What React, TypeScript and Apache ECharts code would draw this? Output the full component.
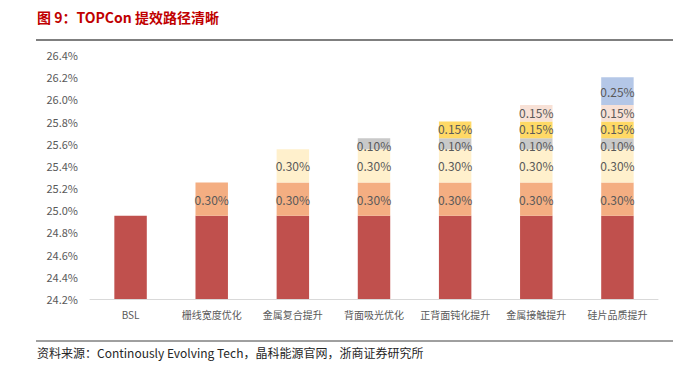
import React, { useEffect, useRef } from "react";
import * as echarts from "echarts";

const categories = ["BSL", "栅线宽度优化", "金属复合提升", "背面吸光优化", "正背面钝化提升", "金属接触提升", "硅片品质提升"];
const baseValues = [24.95, 24.95, 24.95, 24.95, 24.95, 24.95, 24.95];
const gridLineValues = ["-", 0.3, 0.3, 0.3, 0.3, 0.3, 0.3];
const metalCompositeValues = ["-", "-", 0.3, 0.3, 0.3, 0.3, 0.3];
const rearAbsorbValues = ["-", "-", "-", 0.1, 0.1, 0.1, 0.1];
const passivationValues = ["-", "-", "-", "-", 0.15, 0.15, 0.15];
const metalContactValues = ["-", "-", "-", "-", "-", 0.15, 0.15];
const waferValues = ["-", "-", "-", "-", "-", "-", 0.25];

const segments = [
  { name: "栅线宽度优化", data: gridLineValues, color: "#F4AE82", dy: 0 },
  { name: "金属复合提升", data: metalCompositeValues, color: "#FFF0CC", dy: 0 },
  { name: "背面吸光优化", data: rearAbsorbValues, color: "#C9C9C9", dy: 2 },
  { name: "正背面钝化提升", data: passivationValues, color: "#FFD966", dy: -1 },
  { name: "金属接触提升", data: metalContactValues, color: "#F8E1D6", dy: -1 },
  { name: "硅片品质提升", data: waferValues, color: "#B4C7E7", dy: 0 },
];

export default function App() {
  const ref = useRef<HTMLDivElement>(null);
  useEffect(() => {
    if (!ref.current) return;
    const chart = echarts.init(ref.current, null, { renderer: "svg" });
    const font = "'Noto Sans CJK SC', 'Noto Sans', sans-serif";
    chart.setOption({
      animation: false,
      textStyle: { fontFamily: font },
      graphic: [
        {
          type: "text",
          left: 37,
          top: 10,
          style: { text: "图 9：TOPCon 提效路径清晰", fill: "#C00000", font: `bold 14px ${font}` },
        },
        { type: "line", shape: { x1: 36, y1: 40, x2: 673, y2: 40 }, style: { stroke: "#7F7F7F", lineWidth: 2 } },
        { type: "line", shape: { x1: 36, y1: 341, x2: 673, y2: 341 }, style: { stroke: "#404040", lineWidth: 1 } },
        {
          type: "text",
          left: 37,
          top: 346,
          style: {
            text: "资料来源：Continously Evolving Tech，晶科能源官网，浙商证券研究所",
            fill: "#262626",
            font: `12px ${font}`,
          },
        },
      ],
      grid: { left: 90, right: 25, top: 55, bottom: 78, containLabel: false },
      xAxis: {
        type: "category",
        data: categories,
        axisLine: { lineStyle: { color: "#D9D9D9" } },
        axisTick: { show: false },
        axisLabel: { color: "#595959", fontSize: 10, margin: 10, interval: 0 },
      },
      yAxis: {
        type: "value",
        min: 24.2,
        max: 26.4,
        interval: 0.2,
        axisLine: { show: false },
        axisTick: { show: false },
        splitLine: { show: false },
        axisLabel: {
          color: "#595959",
          fontSize: 11,
          margin: 12,
          formatter: (v: number) => v.toFixed(1) + "%",
        },
      },
      series: [
        {
          type: "bar",
          name: "BSL",
          stack: "total",
          data: baseValues,
          barWidth: "40%",
          itemStyle: { color: "#C0504D" },
        },
        ...segments.map((s) => ({
          type: "bar",
          name: s.name,
          stack: "total",
          data: s.data,
          barWidth: "40%",
          itemStyle: { color: s.color },
          label: {
            show: true,
            position: "inside",
            offset: [0, s.dy],
            color: "#595959",
            fontSize: 12,
            lineHeight: 12,
            formatter: (p: any) => Number(p.value).toFixed(2) + "%",
          },
        })),
      ],
    });
    return () => chart.dispose();
  }, []);
  return <div ref={ref} style={{ width: 683, height: 377, position: "absolute", left: 0, top: 0 }} />;
}
